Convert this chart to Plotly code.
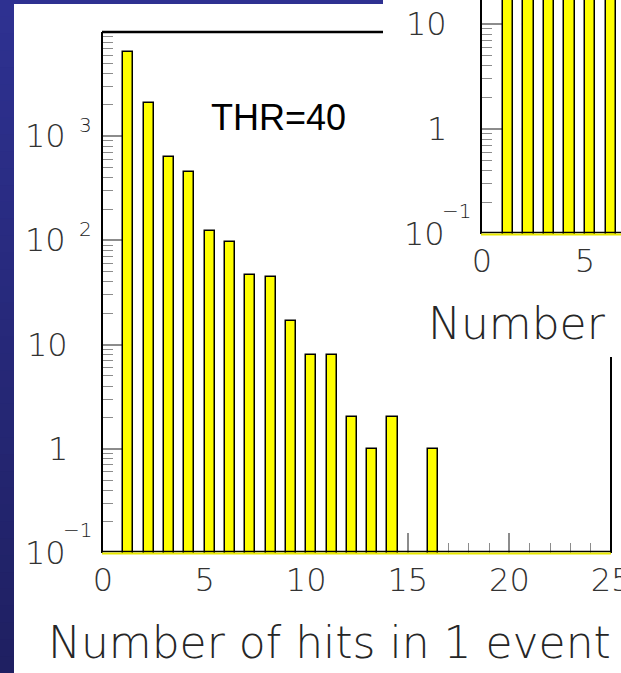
import math
import plotly.graph_objects as go

W, H = 621, 673

# ---------------- data ----------------
hits = list(range(1, 17))
counts_thr40 = [6430, 2080, 628, 451, 122, 96, 47, 45, 17, 8, 8, 2, 1, 2, 0, 1]

inset_hits = [1, 2, 3, 4, 5, 6, 7]
inset_counts = [5200, 4100, 2600, 1900, 1300, 900, 600]   # all above the visible inset range

main_xtick_vals = [0, 5, 10, 15, 20, 25]
main_ytick_vals = [0.1, 1, 10, 100, 1000]
main_ytick_base = ["10", "1", "10", "10", "10"]
main_ytick_exp = ["\u22121", "", "", "2", "3"]

inset_xtick_vals = [0, 5]
inset_ytick_vals = [0.1, 1, 10]
inset_ytick_base = ["10", "1", "10"]
inset_ytick_exp = ["\u22121", "", ""]

x_title = "Number of hits in 1 event"
thr_label = "THR=40"

# ---------------- helpers ----------------
def px(x):
    return x / W

def py(y):
    return 1 - y / H

LABEL_FONT = dict(family="DejaVu Sans", size=32, color="#333333", weight=200)
EXP_FONT = dict(family="DejaVu Sans", size=20, color="#222222", weight=200)
TICK_COL = "#8c8c8c"

def minor_log(decades):
    return [k * 10 ** d for d in decades for k in range(2, 10)]

fig = go.Figure()

fig.add_trace(go.Bar(
    x=hits, y=[c if c > 0 else None for c in counts_thr40],
    width=0.5, offset=0,
    marker=dict(color="#ffff00", line=dict(color="black", width=1.5)),
    xaxis="x", yaxis="y", hoverinfo="skip"))

fig.add_trace(go.Bar(
    x=inset_hits, y=inset_counts,
    width=0.5, offset=0,
    marker=dict(color="#ffff00", line=dict(color="black", width=1.5)),
    xaxis="x2", yaxis="y2", hoverinfo="skip"))

common_x = dict(showgrid=False, zeroline=False, showline=False, ticks="inside",
                ticklen=20, tickwidth=1.5, tickcolor=TICK_COL, tickfont=LABEL_FONT,
                layer="below traces", ticklabelstandoff=5, ticklabeloverflow="allow",
                minor=dict(dtick=1, ticks="inside", ticklen=10, tickwidth=1.2, tickcolor=TICK_COL))
common_y = dict(type="log", showgrid=False, zeroline=False, showline=True,
                linecolor="black", linewidth=2, ticks="inside", ticklen=20,
                tickwidth=1.5, tickcolor=TICK_COL, showticklabels=False,
                layer="below traces")

fig.update_layout(
    width=W, height=H, margin=dict(l=0, r=0, t=0, b=0),
    template="none", paper_bgcolor="white", plot_bgcolor="rgba(0,0,0,0)",
    showlegend=False, bargap=0,
    xaxis=dict(domain=[px(103), px(611)], range=[0, 25], anchor="y",
               tickmode="array", tickvals=main_xtick_vals,
               ticktext=[str(v) for v in main_xtick_vals], **common_x),
    yaxis=dict(domain=[py(553), py(32)], range=[-1, 4], anchor="x",
               tickmode="array", tickvals=main_ytick_vals + [10000],
               minor=dict(tickmode="array", tickvals=minor_log([-1, 0, 1, 2, 3]),
                          ticks="inside", ticklen=10, tickwidth=1.2, tickcolor=TICK_COL),
               **common_y),
    xaxis2=dict(domain=[px(482), 1], range=[0, (621 - 482) / 20.6], anchor="y2",
                tickmode="array", tickvals=inset_xtick_vals,
                ticktext=[str(v) for v in inset_xtick_vals], **common_x),
    yaxis2=dict(domain=[py(234), 1], range=[-1, -1 + 234 / 105], anchor="x2",
                tickmode="array", tickvals=inset_ytick_vals,
                minor=dict(tickmode="array", tickvals=minor_log([-1, 0, 1]),
                           ticks="inside", ticklen=10, tickwidth=1.2, tickcolor=TICK_COL),
                **common_y),
)

shapes = []
# blue slide background: gradient strip on the left, thin strip on top
n_bands = 40
top_c = (46, 49, 145)
bot_c = (31, 32, 98)
for i in range(n_bands):
    t = i / (n_bands - 1)
    c = tuple(round(top_c[k] + (bot_c[k] - top_c[k]) * t) for k in range(3))
    shapes.append(dict(type="rect", xref="paper", yref="paper", layer="below",
                       x0=0, x1=px(14), y0=py(H * (i + 1) / n_bands + 1), y1=py(H * i / n_bands),
                       fillcolor="rgb(%d,%d,%d)" % c, line=dict(width=0)))
shapes.append(dict(type="rect", xref="paper", yref="paper", layer="below",
                   x0=0, x1=px(383), y0=py(4), y1=1,
                   fillcolor="rgb(%d,%d,%d)" % top_c, line=dict(width=0)))
# frame pieces of the main histogram (partly hidden by the inset)
shapes.append(dict(type="line", xref="paper", yref="paper", x0=px(102), x1=px(383),
                   y0=py(32), y1=py(32), line=dict(color="black", width=2.5)))
shapes.append(dict(type="line", xref="paper", yref="paper", x0=px(611), x1=px(611),
                   y0=py(357), y1=py(553), line=dict(color="black", width=2)))
# bottom lines (black axis + yellow empty-bin line)
for (xa, xb, yb) in [(102, 611, 553), (481, 621, 234)]:
    shapes.append(dict(type="line", xref="paper", yref="paper", x0=px(xa), x1=px(xb),
                       y0=py(yb - 1.5), y1=py(yb - 1.5), line=dict(color="black", width=1.5)))
    shapes.append(dict(type="line", xref="paper", yref="paper", x0=px(xa), x1=px(xb),
                       y0=py(yb + 0.5), y1=py(yb + 0.5), line=dict(color="#e8e800", width=2)))
fig.update_layout(shapes=shapes)

annotations = []

def ylabels(vals, bases, exps, yref, axis_px):
    for v, b, e in zip(vals, bases, exps):
        if e:
            annotations.append(dict(text=b, xref="paper", yref=yref, x=px(axis_px - 35),
                                    y=math.log10(v), xanchor="right", yanchor="middle",
                                    showarrow=False, font=LABEL_FONT))
            lift = 23 if e.startswith("\u2212") else 11
            annotations.append(dict(text=e, xref="paper", yref=yref, x=px(axis_px - 9),
                                    y=math.log10(v), yshift=lift, xanchor="right",
                                    yanchor="middle", showarrow=False, font=EXP_FONT))
        else:
            annotations.append(dict(text=b, xref="paper", yref=yref, x=px(axis_px - 33),
                                    y=math.log10(v), xanchor="right", yanchor="middle",
                                    showarrow=False, font=LABEL_FONT))

ylabels(main_ytick_vals, main_ytick_base, main_ytick_exp, "y", 103)
ylabels(inset_ytick_vals, inset_ytick_base, inset_ytick_exp, "y2", 482)

TITLE_FONT = dict(family="DejaVu Sans", size=44, color="#262626", weight=200)
annotations.append(dict(text=x_title, xref="paper", yref="paper", x=px(46), y=py(642),
                        xanchor="left", yanchor="middle", showarrow=False, font=TITLE_FONT))
annotations.append(dict(text=x_title, xref="paper", yref="paper", x=px(426), y=py(323),
                        xanchor="left", yanchor="middle", showarrow=False, font=TITLE_FONT))
annotations.append(dict(text=thr_label, xref="paper", yref="paper", x=px(209), y=py(117),
                        xanchor="left", yanchor="middle", showarrow=False,
                        font=dict(family="Liberation Sans, Arial", size=36, color="black")))
fig.update_layout(annotations=annotations)

fig.write_html("out.html")
